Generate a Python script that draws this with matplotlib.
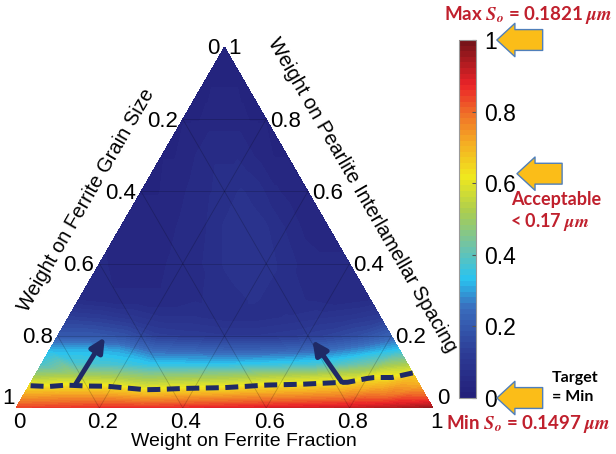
import numpy as np
import matplotlib
matplotlib.use("Agg")
import matplotlib.pyplot as plt
import matplotlib.tri as mtri
import matplotlib.transforms as mtransforms
from matplotlib.colors import LinearSegmentedColormap

plt.rcParams['font.family'] = ['Liberation Sans', 'DejaVu Sans']
plt.rcParams['mathtext.fontset'] = 'custom'
plt.rcParams['mathtext.it'] = 'STIXGeneral:italic:bold'
plt.rcParams['mathtext.rm'] = 'STIXGeneral:bold'

# Surface roughness range (um) used to normalise the response
S_MIN = 0.1497
S_MAX = 0.1821
S_ACCEPT = 0.17

# Sampling rows: weight on pearlite spacing, and relative position along each row
pearlite_rows = [0.0, 0.03, 0.06, 0.09, 0.12, 0.16, 0.2, 0.25, 0.3, 0.4, 0.5, 0.6, 0.7, 0.8, 0.9]
row_pos = [0.0, 0.1, 0.2, 0.3, 0.4, 0.5, 0.6, 0.7, 0.8, 0.9, 1.0]

# Normalised roughness on each row (left edge -> right edge)
norm_rows = [
    [0.84, 0.85, 0.86, 0.86, 0.87, 0.88, 0.89, 0.90, 0.91, 0.93, 0.96],
    [0.74, 0.75, 0.75, 0.73, 0.74, 0.75, 0.76, 0.77, 0.78, 0.80, 0.82],
    [0.635, 0.64, 0.628, 0.58, 0.60, 0.61, 0.64, 0.65, 0.67, 0.70, 0.72],
    [0.50, 0.51, 0.50, 0.47, 0.48, 0.49, 0.51, 0.53, 0.55, 0.61, 0.66],
    [0.38, 0.38, 0.37, 0.34, 0.34, 0.34, 0.35, 0.36, 0.38, 0.44, 0.52],
    [0.32, 0.32, 0.30, 0.24, 0.23, 0.22, 0.22, 0.23, 0.25, 0.29, 0.34],
    [0.20, 0.20, 0.18, 0.13, 0.12, 0.11, 0.11, 0.12, 0.14, 0.17, 0.22],
    [0.13, 0.12, 0.10, 0.08, 0.08, 0.07, 0.07, 0.08, 0.09, 0.10, 0.12],
    [0.06, 0.05, 0.05, 0.05, 0.06, 0.07, 0.08, 0.07, 0.06, 0.05, 0.06],
    [0.05, 0.04, 0.04, 0.05, 0.06, 0.08, 0.09, 0.08, 0.06, 0.05, 0.05],
    [0.04, 0.04, 0.04, 0.05, 0.06, 0.08, 0.09, 0.08, 0.06, 0.04, 0.04],
    [0.03, 0.03, 0.04, 0.05, 0.06, 0.07, 0.08, 0.07, 0.05, 0.04, 0.03],
    [0.03, 0.03, 0.04, 0.05, 0.06, 0.06, 0.06, 0.05, 0.04, 0.03, 0.03],
    [0.03, 0.03, 0.03, 0.04, 0.04, 0.04, 0.04, 0.04, 0.03, 0.03, 0.03],
    [0.02, 0.02, 0.03, 0.03, 0.03, 0.03, 0.03, 0.03, 0.03, 0.02, 0.02],
]
apex_value = 0.02

tick_vals = [0, 0.2, 0.4, 0.6, 0.8, 1]
tick_labels = ['0', '0.2', '0.4', '0.6', '0.8', '1']

# direction arrows (ferrite fraction, pearlite weight)
arrow_tails = [(0.11, 0.066), (0.745, 0.072)]
arrow_heads = [(0.115, 0.196), (0.617, 0.188)]

H = np.sqrt(3) / 2


def tern(f, p):
    f = np.asarray(f, dtype=float)
    p = np.asarray(p, dtype=float)
    return f + p / 2, p * H


# build the triangulation
pts_f, pts_p, vals = [], [], []
for p, row in zip(pearlite_rows, norm_rows):
    for t, v in zip(row_pos, row):
        pts_f.append(t * (1 - p))
        pts_p.append(p)
        vals.append(v)
pts_f.append(0.0)
pts_p.append(1.0)
vals.append(apex_value)
x, y = tern(pts_f, pts_p)
triang = mtri.Triangulation(x, y)
z = np.array(vals)

cmap = LinearSegmentedColormap.from_list('softjet', [
    (0.00, '#23207a'), (0.12, '#2d3c96'), (0.25, '#3a6ebe'), (0.33, '#29c3f0'),
    (0.42, '#6ec3aa'), (0.52, '#aacd50'), (0.62, '#f0e81e'), (0.72, '#f5aa23'),
    (0.80, '#f06e28'), (0.88, '#eb2328'), (1.00, '#781419')], N=64)

navy = '#1f2a66'

fig = plt.figure(figsize=(6.16, 4.54), dpi=100)
ax = fig.add_axes([16 / 616, 46 / 454, 417 / 616, 361 / 454])
ax.set_xlim(0, 1)
ax.set_ylim(0, H)
ax.axis('off')

cf = ax.tricontourf(triang, z, levels=np.linspace(0, 1, 65), cmap=cmap, vmin=0, vmax=1)

# ternary grid lines
for c in tick_vals[1:-1]:
    for fa, pa, fb, pb in [(0, c, 1 - c, c), (c, 0, c, 1 - c), (1 - c, 0, 0, 1 - c)]:
        xa, ya = tern([fa, fb], [pa, pb])
        ax.plot(xa, ya, color='k', lw=0.6, alpha=0.2)

accept_norm = (S_ACCEPT - S_MIN) / (S_MAX - S_MIN)
ax.tricontour(triang, z, levels=[accept_norm], colors=navy, linewidths=3.6,
              linestyles=[(0, (2.6, 1.3))])

for (ft, pt), (fh, ph) in zip(arrow_tails, arrow_heads):
    xt, yt = tern(ft, pt)
    xh, yh = tern(fh, ph)
    ax.annotate('', xy=(xh, yh), xytext=(xt, yt),
                arrowprops=dict(arrowstyle='-|>,head_length=0.85,head_width=0.42',
                                lw=3.5, color=navy, shrinkA=0, shrinkB=0))

# tick labels on the three edges
for v, lab in zip(tick_vals, tick_labels):
    lift, shift = (10, -1) if v == 1 else (-2, -5)
    xl, yl = tern(0, 1 - v)
    ax.text(xl, yl, lab, fontsize=16, ha='right', va='center',
            transform=mtransforms.offset_copy(ax.transData, fig=fig, x=shift, y=lift, units='dots'))
    lift = 9 if v == 0 else -2
    xr, yr = tern(1 - v, v)
    ax.text(xr, yr, lab, fontsize=16, ha='left', va='center',
            transform=mtransforms.offset_copy(ax.transData, fig=fig, x=4, y=lift, units='dots'))
    xb, yb = tern(v, 0)
    ax.text(xb, yb, lab, fontsize=16, ha='center', va='top',
            transform=mtransforms.offset_copy(ax.transData, fig=fig, x=3, y=-4, units='dots'))

ax.text(0.547, -0.080, 'Weight on Ferrite Fraction', fontsize=14, ha='center', va='center')
ax.text(0.168, 0.499, 'Weight on Ferrite Grain Size', fontsize=14.5, ha='center', va='center',
        rotation=60, rotation_mode='anchor')
ax.text(0.83, 0.511, 'Weight on Pearlite Interlamellar Spacing', fontsize=14.5, ha='center',
        va='center', rotation=-60, rotation_mode='anchor')

# colour bar
cax = fig.add_axes([459 / 616, 56 / 454, 17 / 616, 358 / 454])
cbar = fig.colorbar(cf, cax=cax, ticks=tick_vals)
cbar.set_ticklabels(tick_labels)
cbar.outline.set_edgecolor('#999999')
cbar.outline.set_linewidth(0.8)
cax.tick_params(direction='in', length=3, color='#555555', labelsize=16.5, pad=6)

gold = '#fbbd18'
for v, tail, tip in [(1.0, 48, 15), (accept_norm, 62, 29.5), (0.0, 48, 15)]:
    cax.annotate('', xy=(1, v), xycoords=cax.get_yaxis_transform(),
                 xytext=(tail, 0), textcoords='offset points', annotation_clip=False,
                 arrowprops=dict(arrowstyle='simple,head_length=1.3,head_width=2.4,tail_width=1.5',
                                 mutation_scale=10, fc=gold, ec='#4f7fba', lw=1,
                                 shrinkA=0, shrinkB=tip))

red = '#c0202d'


def px(xp, yp):
    return xp / 616, 1 - yp / 454


fig.text(*px(528, 15), r'Max $S_o$ = 0.1821 $\mu m$', color=red, fontsize=13.5,
         fontweight='bold', family='Lato', ha='center', va='center')
fig.text(*px(556, 200), 'Acceptable', color=red, fontsize=13, fontweight='bold',
         family='Lato', ha='center', va='center')
fig.text(*px(550, 222), r'< 0.17 $\mu m$', color=red, fontsize=13, fontweight='bold',
         family='Lato', ha='center', va='center')
fig.text(*px(552, 378), 'Target', color='k', fontsize=11.5, fontweight='bold',
         family='Lato', ha='left', va='center')
fig.text(*px(552, 397), '= Min', color='k', fontsize=11.5, fontweight='bold',
         family='Lato', ha='left', va='center')
fig.text(*px(528, 424), r'Min $S_o$ = 0.1497 $\mu m$', color=red, fontsize=13.5,
         fontweight='bold', family='Lato', ha='center', va='center')

fig.savefig('out.png', dpi=100)
